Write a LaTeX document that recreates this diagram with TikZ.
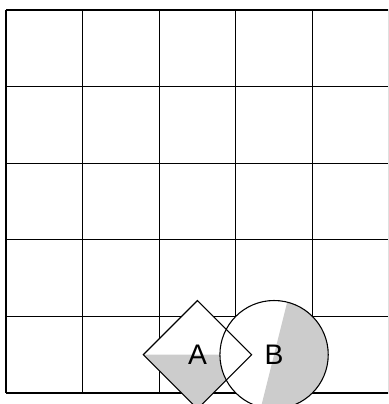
\documentclass[tikz,border=0pt]{standalone}
\usepackage{fontspec}
\setmainfont{Liberation Sans}
\definecolor{shadegray}{gray}{0.8}
\tikzset{
  gridline/.style={line width=0.4pt, black},
  outline/.style={draw=black, line width=0.4pt},
  lbl/.style={inner sep=0pt, font=\fontsize{10.5}{12}\selectfont}
}
\begin{document}
\begin{tikzpicture}
\useasboundingbox (-0.078,-0.144) rectangle (4.99,5.13);
\clip (-0.078,-0.144) rectangle (4.99,5.13);
\draw[gridline] (0,0) grid (5,5);
\coordinate (ca) at (2.5,0.5);
\coordinate (cb) at (3.5,0.5);
% diamond A fill
\fill[white] ([shift={(0,0.707)}]ca) -- ([shift={(0.707,0)}]ca) -- ([shift={(0,-0.707)}]ca) -- ([shift={(-0.707,0)}]ca) -- cycle;
\fill[shadegray] ([shift={(-0.707,0)}]ca) -- ([shift={(0,-0.707)}]ca) -- ([shift={(0.707,0)}]ca) -- cycle;
% circle B fill
\fill[white] (cb) circle (0.707);
\fill[shadegray] (cb) -- ++(76:0.707) arc (76:-104:0.707) -- cycle;
% outlines
\draw[outline] ([shift={(0,0.707)}]ca) -- ([shift={(0.707,0)}]ca) -- ([shift={(0,-0.707)}]ca) -- ([shift={(-0.707,0)}]ca) -- cycle;
\draw[outline] (cb) circle (0.707);
\node[lbl] (A) at (ca) {A};
\node[lbl] (B) at (cb) {B};
\end{tikzpicture}
\end{document}
